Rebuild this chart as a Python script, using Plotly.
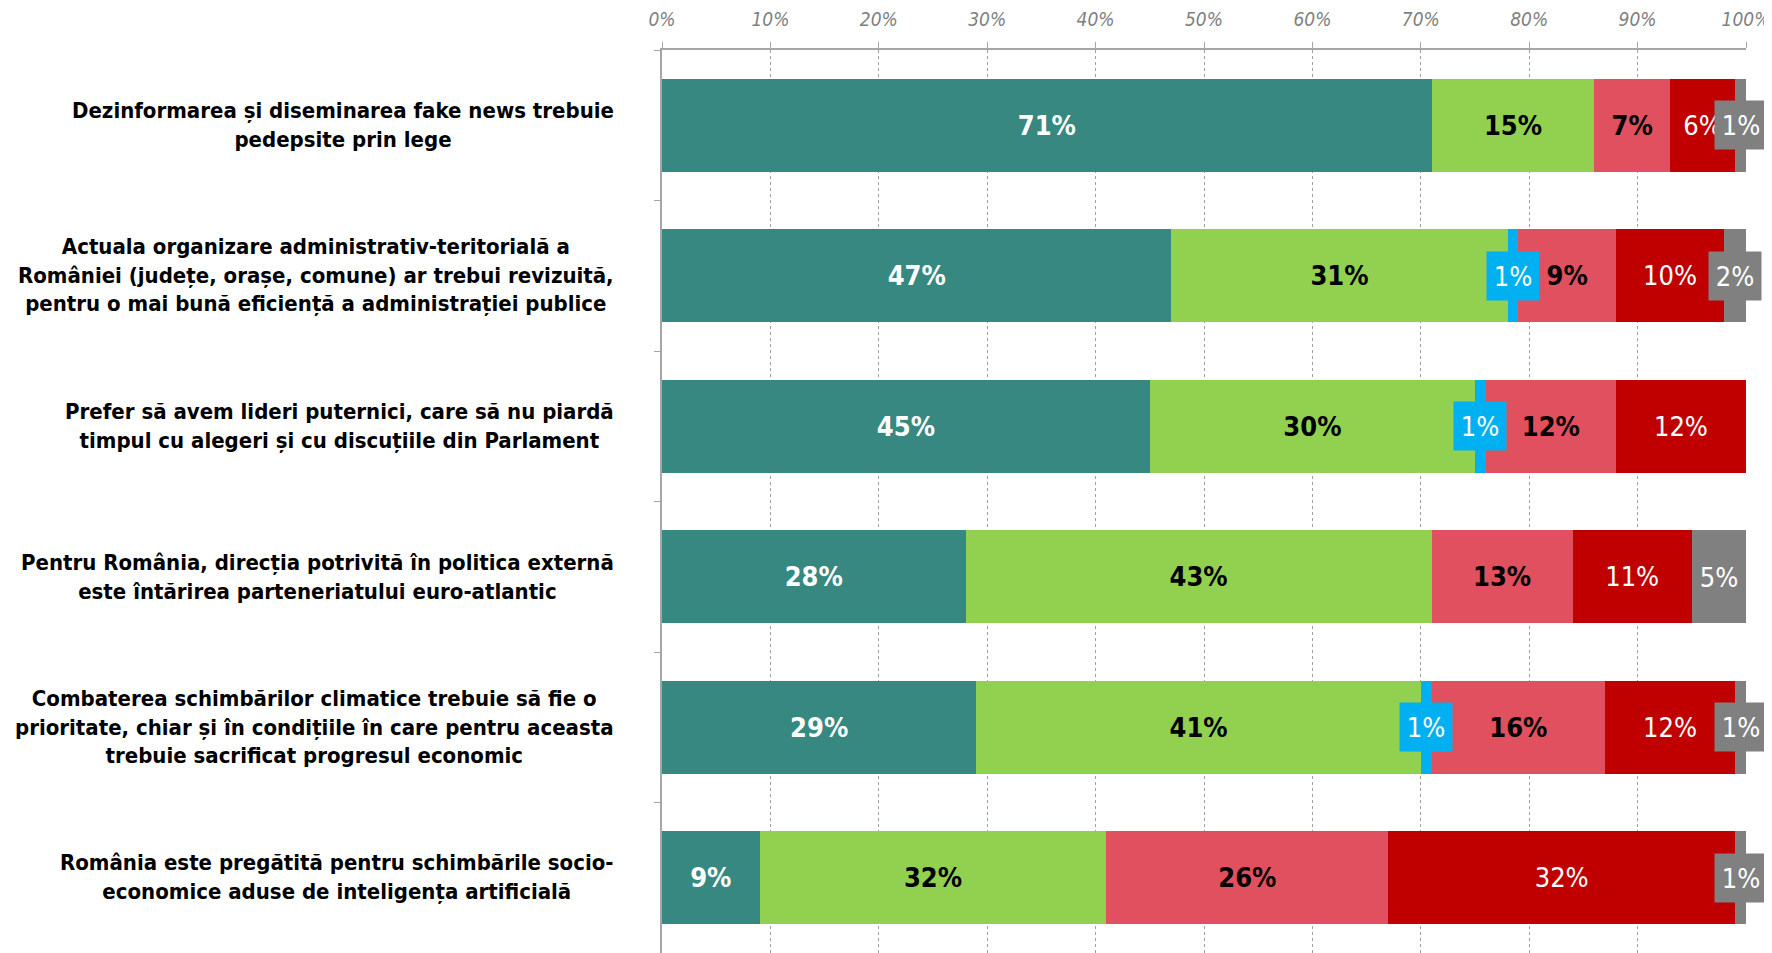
import plotly.graph_objects as go

TEAL   = "#378880"
GREEN  = "#92D050"
BLUE   = "#00B0F0"
PINK   = "#E0505E"
DRED   = "#C00000"
GRAY   = "#808080"
_AXIS  = "#A6A6A6"

FONT = "DejaVu Sans Condensed, DejaVu Sans, sans-serif"

categories = [
    "Dezinformarea și diseminarea fake news trebuie<br>pedepsite prin lege",
    "Actuala organizare administrativ-teritorială a<br>României (județe, orașe, comune) ar trebui revizuită,<br>pentru o mai bună eficiență a administrației publice",
    "Prefer să avem lideri puternici, care să nu piardă<br>timpul cu alegeri și cu discuțiile din Parlament",
    "Pentru România, direcția potrivită în politica externă<br>este întărirea parteneriatului euro-atlantic",
    "Combaterea schimbărilor climatice trebuie să fie o<br>prioritate, chiar și în condițiile în care pentru aceasta<br>trebuie sacrificat progresul economic",
    "România este pregătită pentru schimbările socio-<br>economice aduse de inteligența artificială",
]

acord_total      = [71, 47, 45, 28, 29, 9]
acord_partial    = [15, 31, 30, 43, 41, 32]
neutru           = [0, 1, 1, 0, 1, 0]
dezacord_partial = [7, 9, 12, 13, 16, 26]
dezacord_total   = [6, 10, 12, 11, 12, 32]
ns_nr            = [1, 2, 0, 5, 1, 1]

# name, values, colour, text colour, bold, boxed label
SERIES = [
    ("Acord total", acord_total, TEAL, "white", True, False),
    ("Mai degrabă acord", acord_partial, GREEN, "black", True, False),
    ("Neutru", neutru, BLUE, "white", False, True),
    ("Mai degrabă dezacord", dezacord_partial, PINK, "black", True, False),
    ("Dezacord total", dezacord_total, DRED, "white", False, False),
    ("NS/NR", ns_nr, GRAY, "white", False, True),
]

fig = go.Figure()
left = [0] * len(categories)
annotations = []

for name, vals, color, tcolor, bold, boxed in SERIES:
    labels = [f"{v}%" if (v > 0 and not boxed) else "" for v in vals]
    fig.add_trace(go.Bar(
        y=categories, x=vals, name=name, orientation="h",
        marker=dict(color=color, line=dict(width=0)),
        text=labels, textposition="inside", insidetextanchor="middle",
        textangle=0,
        textfont=dict(family=FONT, size=27, color=tcolor,
                      weight="bold" if bold else "normal"),
        hovertemplate="%{y}<br>" + name + ": %{x}%<extra></extra>",
    ))
    if boxed:
        # small segments: label sits in a box of the segment colour
        for i, v in enumerate(vals):
            if v > 0:
                annotations.append(dict(
                    x=left[i] + v / 2, y=categories[i], xref="x", yref="y",
                    text=f"{v}%", showarrow=False,
                    font=dict(family=FONT, size=27, color="white"),
                    bgcolor=color, borderpad=3, width=46, height=42,
                ))
    left = [l + v for l, v in zip(left, vals)]

for c in categories:
    annotations.append(dict(
        x=-0.042, y=c, xref="paper", yref="y", xanchor="right",
        align="center", text=c, showarrow=False,
        font=dict(family=FONT, size=22, color="black", weight="bold"),
    ))

# page body adds an 8px margin, so the figure is 8px smaller than the window
fig.update_layout(
    width=1764, height=945,
    barmode="stack", bargap=0.38,
    showlegend=False,
    plot_bgcolor="white", paper_bgcolor="white",
    margin=dict(l=654, r=26, t=39, b=0),
    annotations=annotations,
    xaxis=dict(
        side="top", range=[0, 100], dtick=10, ticksuffix="%",
        tickfont=dict(family=FONT, size=19, color="#7F7F7F", style="italic"),
        showgrid=True, gridcolor="#A0A0A0", griddash="dot", gridwidth=1,
        showline=True, linecolor=_AXIS, linewidth=2,
        ticks="outside", ticklen=6, tickcolor=_AXIS,
        ticklabelstandoff=8, zeroline=False,
    ),
    yaxis=dict(
        autorange="reversed", showticklabels=False,
        showline=True, linecolor=_AXIS, linewidth=1.5,
        ticks="outside", ticklen=6, tickcolor=_AXIS, tickson="boundaries",
        showgrid=False, zeroline=False,
    ),
)

fig.write_html("out.html")
